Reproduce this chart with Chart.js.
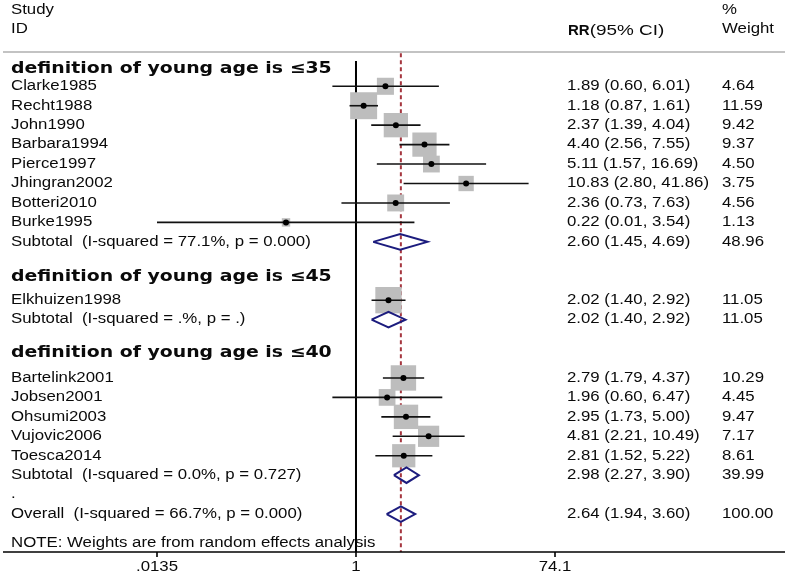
<!DOCTYPE html>
<html>
<head>
<meta charset="utf-8">
<script src="https://cdn.jsdelivr.net/npm/chart.js@4.4.1/dist/chart.umd.min.js"></script>
<style>
  html, body { margin: 0; padding: 0; background: #ffffff; }
  #wrap { width: 787px; height: 582px; position: relative; }
</style>
</head>
<body>
<div id="wrap"><canvas id="c"></canvas></div>
<script>
// ---------- data ----------
const studyLabels = ['Clarke1985','Recht1988','John1990','Barbara1994','Pierce1997','Jhingran2002','Botteri2010','Burke1995','Elkhuizen1998','Bartelink2001','Jobsen2001','Ohsumi2003','Vujovic2006','Toesca2014'];
const studyRR     = [1.89, 1.18, 2.37, 4.40, 5.11, 10.83, 2.36, 0.22, 2.02, 2.79, 1.96, 2.95, 4.81, 2.81];
const studyLow    = [0.60, 0.87, 1.39, 2.56, 1.57, 2.80, 0.73, 0.01, 1.40, 1.79, 0.60, 1.73, 2.21, 1.52];
const studyHigh   = [6.01, 1.61, 4.04, 7.55, 16.69, 41.86, 7.63, 3.54, 2.92, 4.37, 6.47, 5.00, 10.49, 5.22];
const studyWeight = [4.64, 11.59, 9.42, 9.37, 4.50, 3.75, 4.56, 1.13, 11.05, 10.29, 4.45, 9.47, 7.17, 8.61];
const studyRow    = [1, 2, 3, 4, 5, 6, 7, 8, 12, 16, 17, 18, 19, 20];

const pooledLabels = ['Subtotal  (I-squared = 77.1%, p = 0.000)', 'Subtotal  (I-squared = .%, p = .)', 'Subtotal  (I-squared = 0.0%, p = 0.727)', 'Overall  (I-squared = 66.7%, p = 0.000)'];
const pooledRR     = [2.60, 2.02, 2.98, 2.64];
const pooledLow    = [1.45, 1.40, 2.27, 1.94];
const pooledHigh   = [4.69, 2.92, 3.90, 3.60];
const pooledWeight = [48.96, 11.05, 39.99, 100.00];
const pooledRow    = [9, 13, 21, 23];

const groupHeaders = ['definition of young age is \u226435', 'definition of young age is \u226445', 'definition of young age is \u226440'];
const groupRow     = [0.1, 10.8, 14.7];

const xTickValues = [0.0135, 1, 74.1];
const xTickLabels = ['.0135', '1', '74.1'];
const overallRR = pooledRR[3];
const nullValue = 1;
const noteText = 'NOTE: Weights are from random effects analysis';
const noteRow = 24.5;
const spacerRow = 22;

// ---------- styles ----------
const TXT = '#0a0a0a';
const NAVY = '#1c1c7e';
const DASH = '#a5363f';
const GRAY = '#bdbdbd';
const SX = 1.2;
const F_REG = '14px "Liberation Sans", Arial, sans-serif';
const F_HEAD = 'bold 16px "DejaVu Sans", Verdana, sans-serif';
const F_RR = 'bold 15px "Liberation Sans", Arial, sans-serif';

const Y_MIN = -0.3, Y_MAX = 24.95;

// ---------- datasets ----------
const datasets = [];
// dots
datasets.push({
  type: 'scatter', order: 0,
  data: studyRR.map((v, i) => ({x: v, y: studyRow[i]})),
  pointStyle: 'circle', pointRadius: 3, backgroundColor: '#000', borderWidth: 0
});
// CI lines
studyRR.forEach((v, i) => {
  datasets.push({
    type: 'scatter', order: 1, showLine: true, clip: 0,
    data: [{x: studyLow[i], y: studyRow[i]}, {x: studyHigh[i], y: studyRow[i]}],
    borderColor: '#111', borderWidth: 1.6, pointRadius: 0
  });
});
// pooled diamonds
pooledRR.forEach((v, i) => {
  const r = pooledRow[i];
  datasets.push({
    type: 'scatter', order: 2, showLine: true, clip: false,
    data: [{x: pooledLow[i], y: r}, {x: v, y: r - 0.4}, {x: pooledHigh[i], y: r}, {x: v, y: r + 0.4}, {x: pooledLow[i], y: r}],
    borderColor: NAVY, borderWidth: 2, pointRadius: 0, fill: false, tension: 0
  });
});
// weight squares
datasets.push({
  type: 'scatter', order: 3,
  data: studyRR.map((v, i) => ({x: v, y: studyRow[i]})),
  pointStyle: 'rect',
  pointRadius: (ctx) => 5.6 * Math.sqrt(studyWeight[ctx.dataIndex]),
  backgroundColor: GRAY, borderWidth: 0
});
// overall dashed line
datasets.push({
  type: 'scatter', order: 4, showLine: true, clip: false,
  data: [{x: overallRR, y: -0.7}, {x: overallRR, y: Y_MAX}],
  borderColor: DASH, borderWidth: 2, borderDash: [4, 3], pointRadius: 0
});
// null line
datasets.push({
  type: 'scatter', order: 5, showLine: true, clip: false,
  data: [{x: nullValue, y: Y_MIN}, {x: nullValue, y: Y_MAX}],
  borderColor: '#000', borderWidth: 2, pointRadius: 0
});

function txt(ctx, s, x, y, font, align, sx) {
  ctx.save();
  ctx.font = font;
  ctx.fillStyle = TXT;
  ctx.textBaseline = 'middle';
  const w = ctx.measureText(s).width * sx;
  let x0 = x;
  if (align === 'center') x0 = x - w / 2;
  else if (align === 'right') x0 = x - w;
  ctx.translate(x0, y);
  ctx.scale(sx, 1);
  ctx.textAlign = 'left';
  ctx.fillText(s, 0, 0);
  ctx.restore();
  return w;
}

const fmt = (v) => v.toFixed(2);

const textPlugin = {
  id: 'forestText',
  afterDraw(chart) {
    const ctx = chart.ctx;
    const xs = chart.scales.x, ys = chart.scales.y;
    const area = chart.chartArea;
    const W = chart.width;
    const LX = 11, EX = 567, WX = 722;

    // header
    txt(ctx, 'Study', LX, 10, F_REG, 'left', SX);
    txt(ctx, 'ID', LX, 29, F_REG, 'left', SX);
    const wRR = txt(ctx, 'RR', 568, 31, F_RR, 'left', 1.0);
    txt(ctx, '(95% CI)', 568 + wRR, 31, F_REG, 'left', 1.35);
    txt(ctx, '%', WX, 10, F_REG, 'left', SX);
    txt(ctx, 'Weight', WX, 29, F_REG, 'left', SX);

    // top separator
    ctx.save();
    ctx.strokeStyle = '#c3c3c3';
    ctx.lineWidth = 2;
    ctx.beginPath(); ctx.moveTo(3, 52); ctx.lineTo(W - 2, 52); ctx.stroke();
    ctx.restore();

    // group headers
    groupHeaders.forEach((s, i) => txt(ctx, s, 11, ys.getPixelForValue(groupRow[i]), F_HEAD, 'left', 1.18));
    // studies
    studyLabels.forEach((s, i) => {
      const y = ys.getPixelForValue(studyRow[i]);
      txt(ctx, s, LX, y, F_REG, 'left', SX);
      txt(ctx, fmt(studyRR[i]) + ' (' + fmt(studyLow[i]) + ', ' + fmt(studyHigh[i]) + ')', EX, y, F_REG, 'left', SX);
      txt(ctx, fmt(studyWeight[i]), WX, y, F_REG, 'left', SX);
    });
    // pooled
    pooledLabels.forEach((s, i) => {
      const y = ys.getPixelForValue(pooledRow[i]);
      txt(ctx, s, LX, y, F_REG, 'left', SX);
      txt(ctx, fmt(pooledRR[i]) + ' (' + fmt(pooledLow[i]) + ', ' + fmt(pooledHigh[i]) + ')', EX, y, F_REG, 'left', SX);
      txt(ctx, fmt(pooledWeight[i]), WX, y, F_REG, 'left', SX);
    });
    txt(ctx, '.', LX, ys.getPixelForValue(spacerRow), F_REG, 'left', SX);
    txt(ctx, noteText, LX, ys.getPixelForValue(noteRow), F_REG, 'left', SX);

    // x axis line (full width) and ticks
    ctx.save();
    ctx.strokeStyle = '#000';
    ctx.lineWidth = 1.6;
    ctx.beginPath(); ctx.moveTo(3, area.bottom); ctx.lineTo(W - 2, area.bottom); ctx.stroke();
    xTickValues.forEach((v, i) => {
      const x = xs.getPixelForValue(v);
      ctx.beginPath(); ctx.moveTo(x, area.bottom); ctx.lineTo(x, area.bottom + 5); ctx.stroke();
      txt(ctx, xTickLabels[i], x, area.bottom + 15, F_REG, 'center', SX);
    });
    ctx.restore();
  }
};

new Chart(document.getElementById('c'), {
  type: 'scatter',
  data: { datasets },
  options: {
    responsive: true,
    maintainAspectRatio: false,
    animation: false,
    layout: { padding: { left: 157, right: 232, top: 61, bottom: 30 } },
    scales: {
      x: { type: 'logarithmic', min: 0.0135, max: 74.1, display: false },
      y: { type: 'linear', min: Y_MIN, max: Y_MAX, reverse: true, display: false }
    },
    plugins: { legend: { display: false }, tooltip: { enabled: false } },
    events: []
  },
  plugins: [textPlugin]
});
</script>
</body>
</html>
